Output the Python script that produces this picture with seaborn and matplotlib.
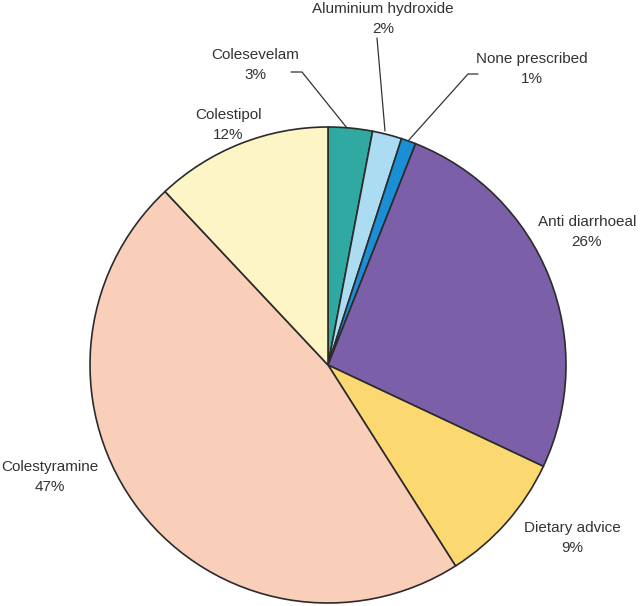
import matplotlib
matplotlib.use("Agg")
import matplotlib.pyplot as plt
import seaborn as sns

# slices, clockwise from 12 o'clock
labels = ["Colesevelam", "Aluminium hydroxide", "None prescribed", "Anti diarrhoeal",
          "Dietary advice", "Colestyramine", "Colestipol"]
shares = [3, 2, 1, 26, 9, 47, 12]
colors = ["#2fa9a2", "#abdcf2", "#1b8fd6", "#7b5fa8", "#fcd970", "#f9cfba", "#fdf5c6"]

sns.set_theme(style="white")
plt.rcParams["font.family"] = ["Liberation Sans", "DejaVu Sans"]

W, H = 640, 606
fig = plt.figure(figsize=(W / 100, H / 100), dpi=100)
ax = fig.add_axes([0, 0, 1, 1])

cx, cy, r = 328, H - 365, 238
ax.pie(shares, colors=colors, startangle=90, counterclock=False,
       center=(cx, cy), radius=r, frame=True,
       wedgeprops=dict(edgecolor="#2b2b2b", linewidth=1.2))
ax.set_xlim(0, W)
ax.set_ylim(0, H)
ax.set_aspect("equal")
ax.axis("off")

txt = dict(ha="center", va="center", fontsize=11, color="#333333")
# label positions in pixel coords (top-left origin)
label_pos = {
    "Colesevelam": (255, 55),
    "Aluminium hydroxide": (383, 9),
    "None prescribed": (532, 59),
    "Anti diarrhoeal": (587, 222),
    "Dietary advice": (572, 528),
    "Colestyramine": (50, 467),
    "Colestipol": (228, 115),
}
for name, pct in zip(labels, shares):
    x, y = label_pos[name]
    ax.text(x, H - y, name, **txt)
    ax.text(x, H - y - 20, f"{pct}%", **txt)

# leader lines
lc = dict(color="#333333", lw=0.9)
ax.plot([291, 302, 347], [H - 72, H - 72, H - 128], **lc)
ax.plot([377, 385], [H - 38, H - 131], **lc)
ax.plot([478, 468, 408], [H - 74, H - 74, H - 141], **lc)

fig.savefig("out.png", dpi=100)
